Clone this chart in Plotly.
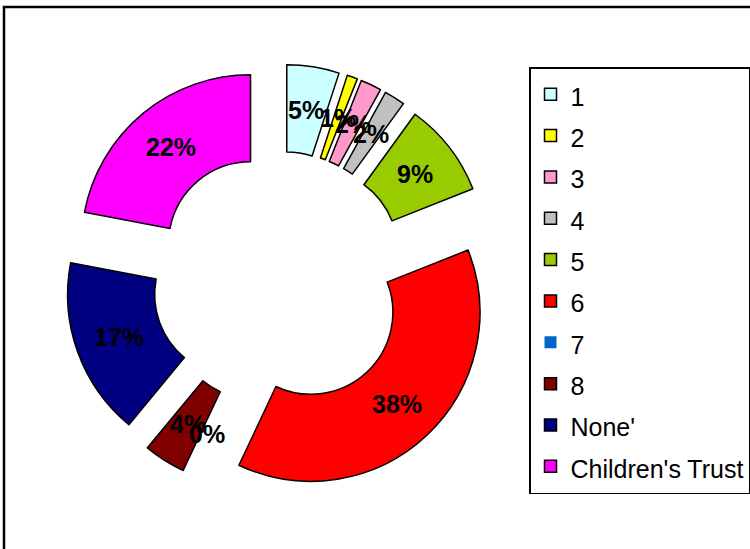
import math
import plotly.graph_objects as go

categories = ["1", "2", "3", "4", "5", "6", "7", "8", "None'", "Children's Trust"]
values = [5, 1, 2, 2, 9, 38, 0, 4, 17, 22]
colors = ["#CCFFFF", "#FFFF00", "#FF99CC", "#C0C0C0", "#99CC00",
          "#FF0000", "#0066CC", "#800000", "#000080", "#FF00FF"]

W, H = 750, 549
cx, cy, rtot = 280, 279, 215
HOLE = 0.485
PULL = 0.27
FONT = "Liberation Sans, Arial"

legend_labels = ['<span style="font-size:25px">%s</span>' % c for c in categories]
line_widths = [1.5 if v > 0 else 0 for v in values]

fig = go.Figure(go.Pie(
    labels=legend_labels,
    values=values,
    sort=False,
    direction="clockwise",
    rotation=0,
    hole=HOLE,
    pull=[PULL] * len(values),
    marker=dict(colors=colors, line=dict(color="black", width=line_widths)),
    textinfo="none",
    domain=dict(x=[(cx - rtot) / W, (cx + rtot) / W],
                y=[1 - (cy + rtot) / H, 1 - (cy - rtot) / H]),
    hoverinfo="label+percent",
))

# percentage labels, placed at the middle of each (exploded) ring segment
total = sum(values)
r_out = 2 * rtot / (2 + 2 * PULL)
r_mid = (r_out + HOLE * r_out) / 2
dist = r_mid + PULL * r_out
annotations = []
cum = 0
for v in values:
    a = math.radians((cum + v / 2) / total * 360)
    cum += v
    px = cx + dist * math.sin(a)
    py = cy - dist * math.cos(a)
    annotations.append(dict(
        x=px / W, y=1 - py / H, xref="paper", yref="paper",
        text="<b>%d%%</b>" % round(v / total * 100),
        showarrow=False, xanchor="center", yanchor="middle",
        font=dict(family=FONT, size=25, color="black"),
    ))

fig.update_layout(
    width=W, height=H,
    margin=dict(l=0, r=0, t=0, b=0),
    paper_bgcolor="white",
    plot_bgcolor="white",
    font=dict(family=FONT, color="black"),
    annotations=annotations,
    legend=dict(
        x=530 / W, y=1 - 67 / H, xanchor="left", yanchor="top",
        font=dict(family=FONT, size=29.5, color="black"),
        bordercolor="black", borderwidth=1.5, bgcolor="white",
        traceorder="normal",
    ),
    shapes=[dict(type="rect", xref="paper", yref="paper",
                 x0=4 / W, x1=1.02, y0=-0.05, y1=1 - 7 / H,
                 line=dict(color="black", width=2.5), layer="below")],
)

fig.write_html("out.html")
